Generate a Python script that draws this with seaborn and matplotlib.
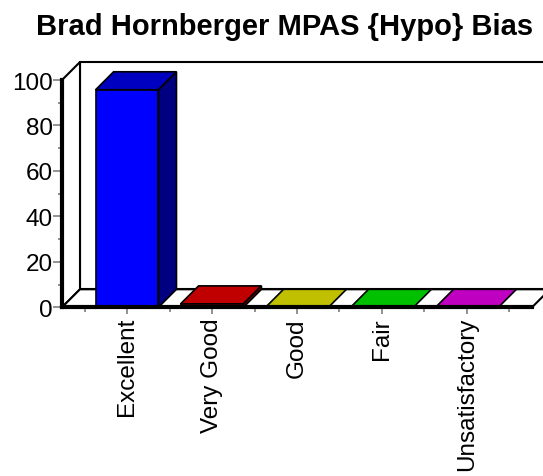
import matplotlib
matplotlib.use("Agg")
import matplotlib.pyplot as plt
from matplotlib.patches import Polygon
from matplotlib.ticker import MultipleLocator, FixedLocator
import seaborn as sns

categories = ["Excellent", "Very Good", "Good", "Fair", "Unsatisfactory"]
values = [95.7, 1.5, 0, 0, 0]
front_colors = ["#0000FF", "#FF0000", "#FFFF00", "#00FF00", "#FF00FF"]
top_colors = ["#0000C0", "#C00000", "#C0C000", "#00C000", "#C000C0"]
side_colors = ["#000080", "#800000", "#808000", "#008000", "#800080"]
title = "Brad Hornberger MPAS {Hypo} Bias"

sns.set_style("white")
plt.rcParams["font.family"] = ["Liberation Sans", "DejaVu Sans"]
plt.rcParams["text.color"] = "black"

W, H = 543, 477
fig = plt.figure(figsize=(W / 100, H / 100), dpi=100)
ax = fig.add_axes([62 / W, (H - 308.3) / H, (532 - 62) / W, (308.3 - 81) / H])

sns.barplot(x=categories, y=values, hue=categories, palette=front_colors,
            saturation=1, width=0.74, edgecolor="black", linewidth=1.2,
            legend=False, ax=ax, zorder=2)

x0, x1 = -0.765, 4.765
ax.set_xlim(x0, x1)
ax.set_ylim(0, 100)

# depth offset of the pseudo-3D box, in data units
depth_px = 18
p0 = ax.transData.transform((0, 0))
p1 = ax.transData.transform((1, 1))
dx = depth_px / (p1[0] - p0[0])
dy = depth_px / (p1[1] - p0[1])

wall = dict(facecolor="white", edgecolor="black", linewidth=1.5,
            clip_on=False, zorder=0.5)
# back wall, left wall, floor
ax.add_patch(Polygon([(x0 + dx, dy), (x1 + dx, dy), (x1 + dx, 100 + dy),
                      (x0 + dx, 100 + dy)], **wall))
ax.add_patch(Polygon([(x0, 0), (x0, 100), (x0 + dx, 100 + dy), (x0 + dx, dy)],
                     **wall))
ax.add_patch(Polygon([(x0, 0), (x1, 0), (x1 + dx, dy), (x0 + dx, dy)], **wall))

# top and side faces of each bar
for i, bar in enumerate(ax.patches[:len(categories)]):
    bx, bw, bh = bar.get_x(), bar.get_width(), bar.get_height()
    ax.add_patch(Polygon([(bx, bh), (bx + bw, bh), (bx + bw + dx, bh + dy),
                          (bx + dx, bh + dy)], facecolor=top_colors[i],
                         edgecolor="black", linewidth=1.2, zorder=1.8,
                         clip_on=False))
    if bh > 0:
        ax.add_patch(Polygon([(bx + bw, 0), (bx + bw + dx, dy),
                              (bx + bw + dx, bh + dy), (bx + bw, bh)],
                             facecolor=side_colors[i], edgecolor="black",
                             linewidth=1.2, zorder=1.8, clip_on=False))

for s in ["top", "right"]:
    ax.spines[s].set_visible(False)
for s in ["left", "bottom"]:
    ax.spines[s].set_linewidth(3)
    ax.spines[s].set_color("black")
    ax.spines[s].set_zorder(3)

ax.yaxis.set_major_locator(MultipleLocator(20))
ax.yaxis.set_minor_locator(MultipleLocator(10))
ax.xaxis.set_minor_locator(FixedLocator([i - 0.5 for i in range(len(categories) + 1)]))
ax.tick_params(axis="both", which="major", direction="out", color="#808080",
               width=1.2, labelsize=17.5, labelcolor="black")
ax.tick_params(axis="y", which="major", length=6.5, pad=0, left=True)
ax.tick_params(axis="y", which="minor", length=3, color="#808080", width=1.2, left=True)
ax.tick_params(axis="x", which="major", length=5, pad=2, bottom=True)
ax.tick_params(axis="x", which="minor", length=3.5, color="#808080", width=1.2, bottom=True)
ax.set_xticks(range(len(categories)))
ax.set_xticklabels(categories, rotation=90)
ax.set_xlabel("")
ax.set_ylabel("")

fig.text(285 / W, 1 - 35 / H, title, ha="center", va="baseline",
         fontsize=21, fontweight="bold", color="black")

fig.savefig("out.png", dpi=100)
